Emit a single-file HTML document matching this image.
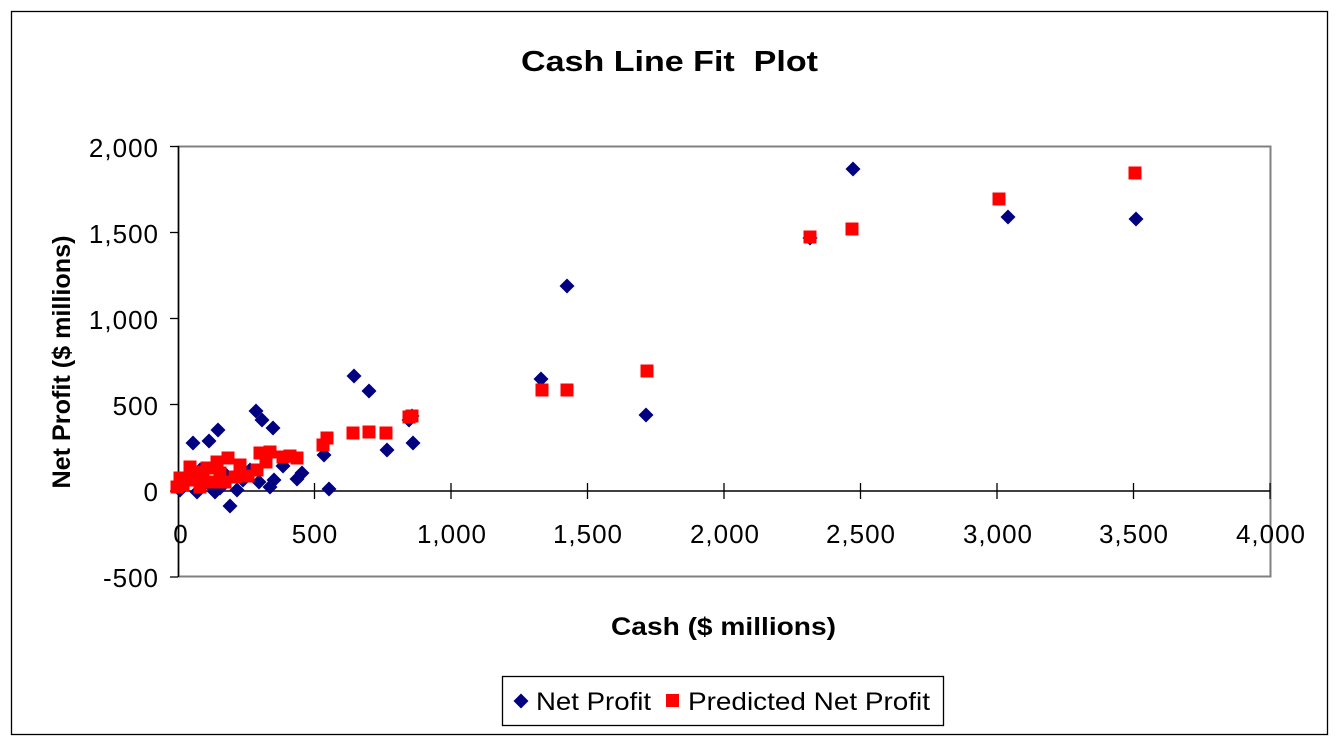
<!DOCTYPE html>
<html><head><meta charset="utf-8"><style>body{margin:0;background:#fff}svg{display:block}</style></head>
<body>
<svg width="1341" height="745" xmlns="http://www.w3.org/2000/svg" font-family="Liberation Sans, Arial, sans-serif">
<rect x="0" y="0" width="1341" height="745" fill="#fff"/>
<rect x="11.5" y="11.5" width="1316" height="723" fill="none" stroke="#000" stroke-width="1.3"/>
<text x="521" y="71" font-size="29" font-weight="bold" textLength="297" lengthAdjust="spacingAndGlyphs">Cash Line Fit&#160; Plot</text>
<rect x="178.5" y="146.5" width="1092" height="430" fill="#fff" stroke="#808080" stroke-width="2"/>
<line x1="178.5" y1="146" x2="178.5" y2="577" stroke="#000" stroke-width="1.5"/>
<line x1="178" y1="491" x2="1270" y2="491" stroke="#000" stroke-width="1.5"/>
<g stroke="#000" stroke-width="1.3">
<line x1="170" y1="146.5" x2="178" y2="146.5"/><line x1="170" y1="232.5" x2="178" y2="232.5"/><line x1="170" y1="318.5" x2="178" y2="318.5"/><line x1="170" y1="404.5" x2="178" y2="404.5"/><line x1="170" y1="491" x2="178" y2="491"/><line x1="170" y1="577" x2="178" y2="577"/>
<line x1="314.5" y1="483" x2="314.5" y2="499"/><line x1="451" y1="483" x2="451" y2="499"/><line x1="587.5" y1="483" x2="587.5" y2="499"/><line x1="724" y1="483" x2="724" y2="499"/><line x1="860.5" y1="483" x2="860.5" y2="499"/><line x1="997" y1="483" x2="997" y2="499"/><line x1="1133.5" y1="483" x2="1133.5" y2="499"/><line x1="1270" y1="483" x2="1270" y2="499"/>
</g>
<g font-size="26" text-anchor="end" letter-spacing="1">
<text x="159" y="157">2,000</text><text x="159" y="243">1,500</text><text x="159" y="329">1,000</text><text x="159" y="415">500</text><text x="159" y="501">0</text><text x="159" y="587">-500</text>
</g>
<g font-size="26" text-anchor="middle" letter-spacing="1">
<text x="181" y="543">0</text><text x="315" y="543">500</text><text x="452" y="543">1,000</text><text x="588" y="543">1,500</text><text x="725" y="543">2,000</text><text x="861" y="543">2,500</text><text x="998" y="543">3,000</text><text x="1134" y="543">3,500</text><text x="1271" y="543">4,000</text>
</g>
<text x="611" y="635" font-size="25" font-weight="bold" textLength="225" lengthAdjust="spacingAndGlyphs">Cash ($ millions)</text>
<text transform="translate(70,362) rotate(-90)" text-anchor="middle" font-size="25" font-weight="bold" textLength="253" lengthAdjust="spacingAndGlyphs">Net Profit ($ millions)</text>
<defs>
<path id="d" d="M0,-7.5L7.5,0L0,7.5L-7.5,0Z" fill="#000080"/>
<rect id="s" x="-6.5" y="-6.5" width="13" height="13" fill="#ff0000"/>
</defs>
<g>
<use href="#d" x="853" y="169"/><use href="#d" x="1008" y="217"/><use href="#d" x="1136" y="219"/><use href="#d" x="810" y="238"/><use href="#d" x="567" y="286"/><use href="#d" x="354" y="376"/><use href="#d" x="369" y="391"/><use href="#d" x="541" y="379"/><use href="#d" x="646" y="415"/>
<use href="#d" x="256" y="411"/><use href="#d" x="262" y="420"/><use href="#d" x="273" y="428"/><use href="#d" x="218" y="430"/><use href="#d" x="209" y="441"/><use href="#d" x="193" y="443"/><use href="#d" x="387" y="450"/><use href="#d" x="413" y="443"/><use href="#d" x="409" y="420"/><use href="#d" x="329" y="489"/><use href="#d" x="230" y="506"/><use href="#d" x="324" y="455"/><use href="#d" x="283" y="466"/><use href="#d" x="297" y="479"/><use href="#d" x="302" y="473"/><use href="#d" x="270" y="487"/><use href="#d" x="259" y="482"/><use href="#d" x="237" y="490"/><use href="#d" x="220" y="488"/><use href="#d" x="197" y="492"/><use href="#d" x="180" y="490"/><use href="#d" x="243" y="480"/><use href="#d" x="210" y="485"/><use href="#d" x="186" y="480"/>
<use href="#d" x="412" y="416"/><use href="#d" x="200" y="470"/><use href="#d" x="226" y="475"/><use href="#d" x="250" y="470"/><use href="#d" x="215" y="492"/><use href="#d" x="274" y="480"/>
</g>
<g>
<use href="#s" x="810" y="237"/><use href="#s" x="852" y="229"/><use href="#s" x="999" y="199"/><use href="#s" x="1135" y="173"/><use href="#s" x="542" y="390"/><use href="#s" x="567" y="390"/><use href="#s" x="647" y="371"/>
<use href="#s" x="177" y="487"/><use href="#s" x="190" y="467"/><use href="#s" x="190" y="480"/><use href="#s" x="203" y="477"/><use href="#s" x="217" y="462"/><use href="#s" x="228" y="458"/><use href="#s" x="240" y="465"/><use href="#s" x="235" y="477"/><use href="#s" x="213" y="482"/><use href="#s" x="260" y="453"/><use href="#s" x="270" y="452"/><use href="#s" x="283" y="457"/><use href="#s" x="297" y="458"/><use href="#s" x="257" y="470"/><use href="#s" x="323" y="445"/><use href="#s" x="327" y="438"/><use href="#s" x="353" y="433"/><use href="#s" x="369" y="432"/><use href="#s" x="386" y="433"/><use href="#s" x="409" y="417"/><use href="#s" x="412" y="416"/><use href="#s" x="200" y="487"/><use href="#s" x="220" y="473"/><use href="#s" x="183" y="485"/><use href="#s" x="196" y="472"/><use href="#s" x="266" y="462"/><use href="#s" x="290" y="456"/><use href="#s" x="207" y="468"/><use href="#s" x="248" y="476"/><use href="#s" x="180" y="478"/><use href="#s" x="225" y="482"/>
</g>
<rect x="502.5" y="676.5" width="441" height="49" fill="#fff" stroke="#000" stroke-width="1.3"/>
<use href="#d" x="521" y="701"/>
<rect x="666" y="694" width="13" height="13" fill="#ff0000"/>
<text x="536" y="710" font-size="25" textLength="115" lengthAdjust="spacingAndGlyphs">Net Profit</text>
<text x="688" y="710" font-size="25" textLength="242" lengthAdjust="spacingAndGlyphs">Predicted Net Profit</text>
</svg>
</body></html>
